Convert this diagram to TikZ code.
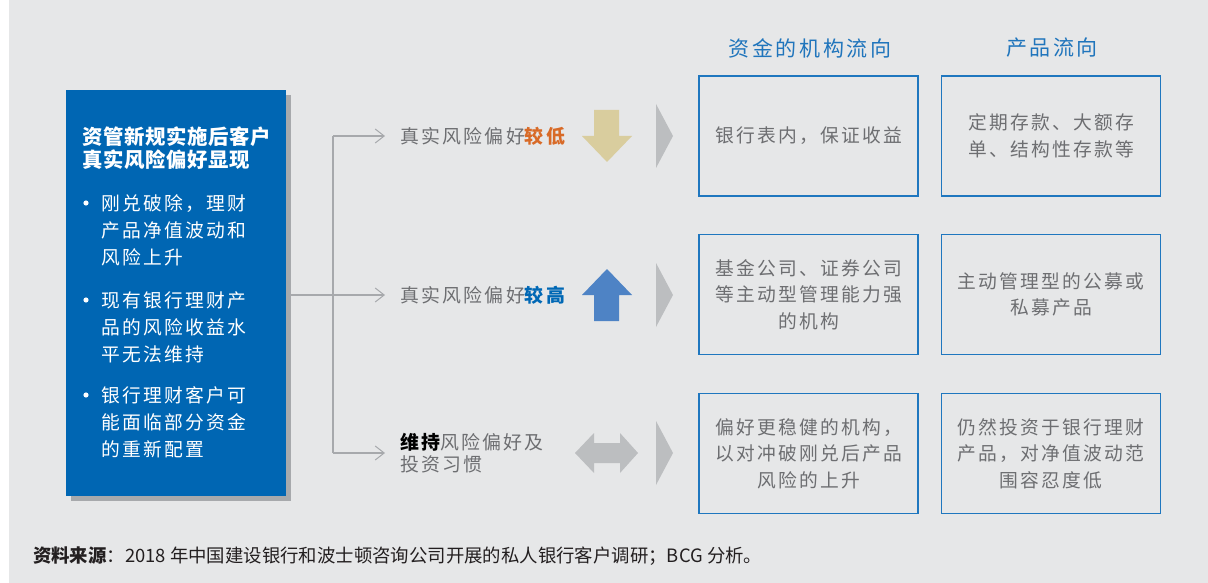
\documentclass[tikz,border=0pt]{standalone}
\usepackage{fontspec}
\usetikzlibrary{arrows.meta}
\newfontfamily\cjk{Noto Sans CJK SC}[LetterSpace=12]
\newfontfamily\cjkb{Noto Sans CJK SC}[LetterSpace=3]
\newfontfamily\cjkt{Noto Sans CJK SC}
\definecolor{bg}{HTML}{E6E7E8}
\definecolor{boxblue}{HTML}{0066B3}
\definecolor{shadowgray}{HTML}{A7A9AC}
\definecolor{linegray}{HTML}{A7A9AC}
\definecolor{textgray}{HTML}{6D6E71}
\definecolor{orangec}{HTML}{D86A27}
\definecolor{blueb}{HTML}{0068B5}
\definecolor{tan}{HTML}{D9CD9E}
\definecolor{upblue}{HTML}{4E83C5}
\definecolor{dgray}{HTML}{BCBEC0}
\definecolor{boxline}{HTML}{1F77BF}
\definecolor{headblue}{HTML}{2075BC}
\definecolor{foot}{HTML}{231F20}
\tikzset{
  conn/.style={draw=linegray, line width=1.1pt},
  connarrow/.style={conn, -{Straight Barb[length=9pt,width=14pt,line width=1pt]}},
  labeltext/.style={anchor=west, inner sep=0, text=textgray, align=left,
    font=\cjk\fontsize{18.9}{22}\selectfont},
  bullettext/.style={anchor=west, inner sep=0, text=white, align=left,
    font=\cjk\fontsize{18.75}{27}\selectfont},
  flowbox/.style={draw=boxline, line width=1.5pt, minimum width=219pt,
    minimum height=120pt, inner sep=0, text=textgray, align=center,
    font=\cjk\fontsize{18.75}{26.5}\selectfont},
  header/.style={inner sep=0, text=headblue, font=\cjk\fontsize{21}{25}\selectfont},
  chevron/.style={fill=dgray},
}
\begin{document}
\begin{tikzpicture}[x=1pt,y=-1pt]
\useasboundingbox (0,0) rectangle (1208,583);
\fill[white] (0,0) rectangle (1208,583);
\fill[bg] (9,0) rectangle (1208,583);

% left box with shadow
\node[fill=shadowgray, minimum width=220pt, minimum height=406pt, inner sep=0, anchor=north west] (Ls) at (71,95) {};
\node[fill=boxblue, minimum width=220pt, minimum height=406pt, inner sep=0, anchor=north west] (L) at (66,90) {};
\node[anchor=west, inner sep=0, text=white, align=left,
  font=\cjkb\bfseries\fontsize{20.4}{23}\selectfont] (Lt) at (82,148.5) {资管新规实施后客户\\真实风险偏好显现};
\node[bullettext] (b1) at (101,230) {刚兑破除，理财\\产品净值波动和\\风险上升};
\node[bullettext] (b2) at (101,327) {现有银行理财产\\品的风险收益水\\平无法维持};
\node[bullettext] (b3) at (101,422) {银行理财客户可\\能面临部分资金\\的重新配置};
\fill[white] (86,203) circle (2.6pt);
\fill[white] (86,300) circle (2.6pt);
\fill[white] (86,395) circle (2.6pt);

% connectors
\coordinate (t1) at (385,136);
\coordinate (t2) at (385,295);
\coordinate (t3) at (385,453);
\coordinate (split) at (333,295);
\draw[conn] (Ls.east |- t2) -- (split);
\draw[conn] (t1 -| split) -- (t3 -| split);
\draw[connarrow] (split) -- (t2);
\draw[connarrow] (t1 -| split) -- (t1);
\draw[connarrow] (t3 -| split) -- (t3);

% labels
\node[labeltext] (l1) at (400,136) {真实风险偏好{\bfseries\color{orangec}较低}};
\node[labeltext] (l2) at (400,295) {真实风险偏好{\bfseries\color{blueb}较高}};
\node[labeltext] (l3) at (400,453) {{\bfseries\color{black}维持}风险偏好及\\投资习惯};

% arrows
\fill[tan] (594,110) -- (619,110) -- (619,136) -- (632,136) -- (607,162) -- (582,136) -- (594,136) -- cycle;
\fill[upblue] (607,269) -- (632,295) -- (619,295) -- (619,321) -- (594,321) -- (594,295) -- (582,295) -- cycle;
\fill[dgray] (575,453) -- (594,433) -- (594,443) -- (620,443) -- (620,433) -- (638,453) -- (620,473) -- (620,463) -- (594,463) -- (594,473) -- cycle;

% chevrons
\fill[chevron] (656,104) -- (673,136) -- (656,168) -- cycle;
\fill[chevron] (656,263) -- (673,295) -- (656,327) -- cycle;
\fill[chevron] (656,421) -- (673,453) -- (656,485) -- cycle;

% headers
\node[header] (h1) at (810,48) {资金的机构流向};
\node[header] (h2) at (1052,48) {产品流向};

% boxes
\node[flowbox] (c1) at (808.5,136) {银行表内，保证收益};
\node[flowbox] (p1) at (1051,136) {定期存款、大额存\\单、结构性存款等};
\node[flowbox] (c2) at (808.5,294.5) {基金公司、证券公司\\等主动型管理能力强\\的机构};
\node[flowbox] (p2) at (1051,294.5) {主动管理型的公募或\\私募产品};
\node[flowbox] (c3) at (808.5,453.5) {偏好更稳健的机构，\\以对冲破刚兑后产品\\风险的上升};
\node[flowbox] (p3) at (1051,453.5) {仍然投资于银行理财\\产品，对净值波动范\\围容忍度低};

% footer
\node[anchor=west, inner sep=0, text=foot, font=\cjkt\fontsize{18.4}{21}\selectfont] (src) at (33,556)
  {{\bfseries 资料来源}：2018 年中国建设银行和波士顿咨询公司开展的私人银行客户调研；BCG 分析。};
\end{tikzpicture}
\end{document}
